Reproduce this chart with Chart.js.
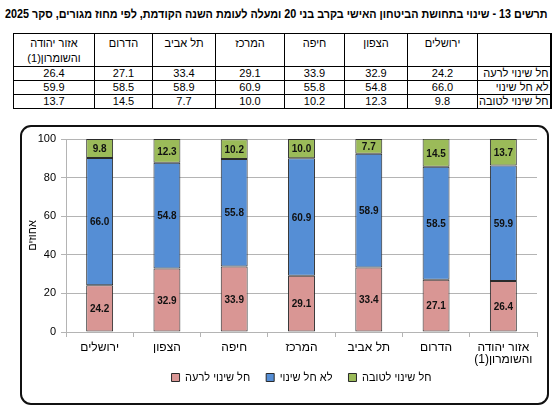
<!DOCTYPE html>
<html lang="he" dir="rtl">
<head>
<meta charset="utf-8">
<title>תרשים 13</title>
<script src="https://cdn.jsdelivr.net/npm/chart.js@4.4.1/dist/chart.umd.min.js"></script>
<style>
  body { margin: 0; width: 554px; height: 414px; background: #fff; position: relative; overflow: hidden;
         font-family: "Liberation Sans", Arial, sans-serif; color: #000; }
  #title { position: absolute; top: 7px; right: 6px; font-size: 12px; line-height: 14px; font-weight: bold;
           white-space: nowrap; transform-origin: right top; }
  #data { position: absolute; top: 33px; left: 13px; width: 537px; border-collapse: collapse; table-layout: fixed; font-size: 11px; }
  #data td { border: 1px solid #000; padding: 0; text-align: center; height: 13px; line-height: 13px; white-space: nowrap; overflow: hidden; }
  #data tr.head td { height: 29px; line-height: 15px; padding-top: 2px; vertical-align: top; }
  #data td.lbl { text-align: right; padding-right: 1px; }
  #data td:first-child { border-right: 2px solid #000; }
  #box { position: absolute; left: 20px; top: 125px; width: 525px; height: 276px; border: 2px solid #111; border-radius: 11px; }
  #box canvas { display: block; }
</style>
</head>
<body>
<div id="title">תרשים 13 - שינוי בתחושת הביטחון האישי בקרב בני 20 ומעלה לעומת השנה הקודמת, לפי מחוז מגורים, סקר 2025</div>
<table id="data">
  <colgroup id="cols"></colgroup>
  <tbody id="rows"></tbody>
</table>
<div id="box"><canvas id="chart" width="525" height="276"></canvas></div>

<script>
// data
const categories = ['ירושלים', 'הצפון', 'חיפה', 'המרכז', 'תל אביב', 'הדרום', ['אזור יהודה', 'והשומרון(1)']];
const seriesNames = ['חל שינוי לרעה', 'לא חל שינוי', 'חל שינוי לטובה'];
const worse = [24.2, 32.9, 33.9, 29.1, 33.4, 27.1, 26.4];
const noChange = [66.0, 54.8, 55.8, 60.9, 58.9, 58.5, 59.9];
const better = [9.8, 12.3, 10.2, 10.0, 7.7, 14.5, 13.7];
const yTicks = [0, 20, 40, 60, 80, 100];

const seriesValues = [worse, noChange, better];
const seriesColors = ['#D99694', '#558ED5', '#9BBB59'];
const colWidths = [73, 70, 63, 60, 69, 63, 58, 81]; // label column first (rtl)

// the title in the picture is set tighter than the font, squeeze it to the same width
const title = document.getElementById('title');
title.style.transform = 'scaleX(' + Math.min(1, 543 / title.scrollWidth) + ')';

// table above the chart
const cols = document.getElementById('cols');
colWidths.forEach(w => {
    let c = document.createElement('col');
    c.style.width = w + 'px';
    cols.appendChild(c);
});

const rows = document.getElementById('rows');
let head = '<tr class="head"><td></td>';
categories.forEach(c => { head += '<td>' + (Array.isArray(c) ? c.join('<br>') : c) + '</td>'; });
rows.innerHTML = head + '</tr>';
seriesNames.forEach((name, i) => {
    let tr = '<tr><td class="lbl">' + name + '</td>';
    seriesValues[i].forEach(v => { tr += '<td>' + v.toFixed(1) + '</td>'; });
    rows.innerHTML += tr + '</tr>';
});

// values written in the middle of each stacked segment
const segmentLabels = {
    id: 'segmentLabels',
    afterDatasetsDraw(chart) {
        let ctx = chart.ctx;
        ctx.save();
        ctx.font = 'bold 10px "Liberation Sans", Arial, sans-serif';
        ctx.fillStyle = '#111';
        ctx.textAlign = 'center';
        ctx.textBaseline = 'middle';
        chart.data.datasets.forEach((ds, i) => {
            chart.getDatasetMeta(i).data.forEach((bar, j) => {
                let p = bar.getProps(['x', 'y', 'base'], true);
                ctx.fillText(ds.data[j].toFixed(1), p.x, (p.y + p.base) / 2 + 1);
            });
        });
        ctx.restore();
    }
};

// the legend sits close under the two-line category label, pull it up a bit
const legendLift = {
    id: 'legendLift',
    afterLayout(chart) {
        if (chart.legend) {
            chart.legend.top -= 10;
            chart.legend.bottom -= 10;
        }
    }
};

const gridColor = '#b4b4b4';
const font = '"Liberation Sans", Arial, sans-serif';

new Chart(document.getElementById('chart'), {
    type: 'bar',
    data: {
        labels: categories,
        datasets: seriesNames.map((name, i) => ({
            label: name,
            data: seriesValues[i],
            backgroundColor: seriesColors[i],
            borderColor: '#2a2a2a',
            borderWidth: 1,
            borderSkipped: false,
            categoryPercentage: 1,
            barPercentage: 0.4
        }))
    },
    options: {
        responsive: false,
        animation: false,
        layout: { padding: { left: 0, right: 10, top: 12, bottom: 0 } },
        plugins: {
            tooltip: { enabled: false },
            legend: {
                position: 'bottom',
                fullSize: false,
                maxHeight: 37,
                labels: {
                    boxWidth: 8,
                    boxHeight: 8,
                    padding: 16,
                    color: '#000',
                    font: { family: font, size: 11 }
                }
            }
        },
        scales: {
            x: {
                stacked: true,
                afterFit: axis => { axis.height = 34; },
                grid: { display: true, drawOnChartArea: false, drawTicks: true, tickLength: 5, color: gridColor },
                border: { color: gridColor },
                ticks: {
                    color: '#000', padding: 5, maxRotation: 0, autoSkip: false,
                    font: { family: font, size: 12, lineHeight: 1.0 }
                }
            },
            y: {
                stacked: true,
                min: 0,
                max: 100,
                afterBuildTicks: axis => { axis.ticks = yTicks.map(v => ({ value: v })); },
                afterFit: axis => { axis.width = 44; },
                grid: { color: gridColor, tickLength: 5 },
                border: { color: gridColor },
                ticks: { color: '#000', padding: 5, font: { family: font, size: 11 } },
                title: {
                    display: true,
                    text: 'אחוזים',
                    color: '#000',
                    padding: { top: 4, bottom: 0 },
                    font: { family: font, size: 11 }
                }
            }
        }
    },
    plugins: [segmentLabels, legendLift]
});
</script>
</body>
</html>
